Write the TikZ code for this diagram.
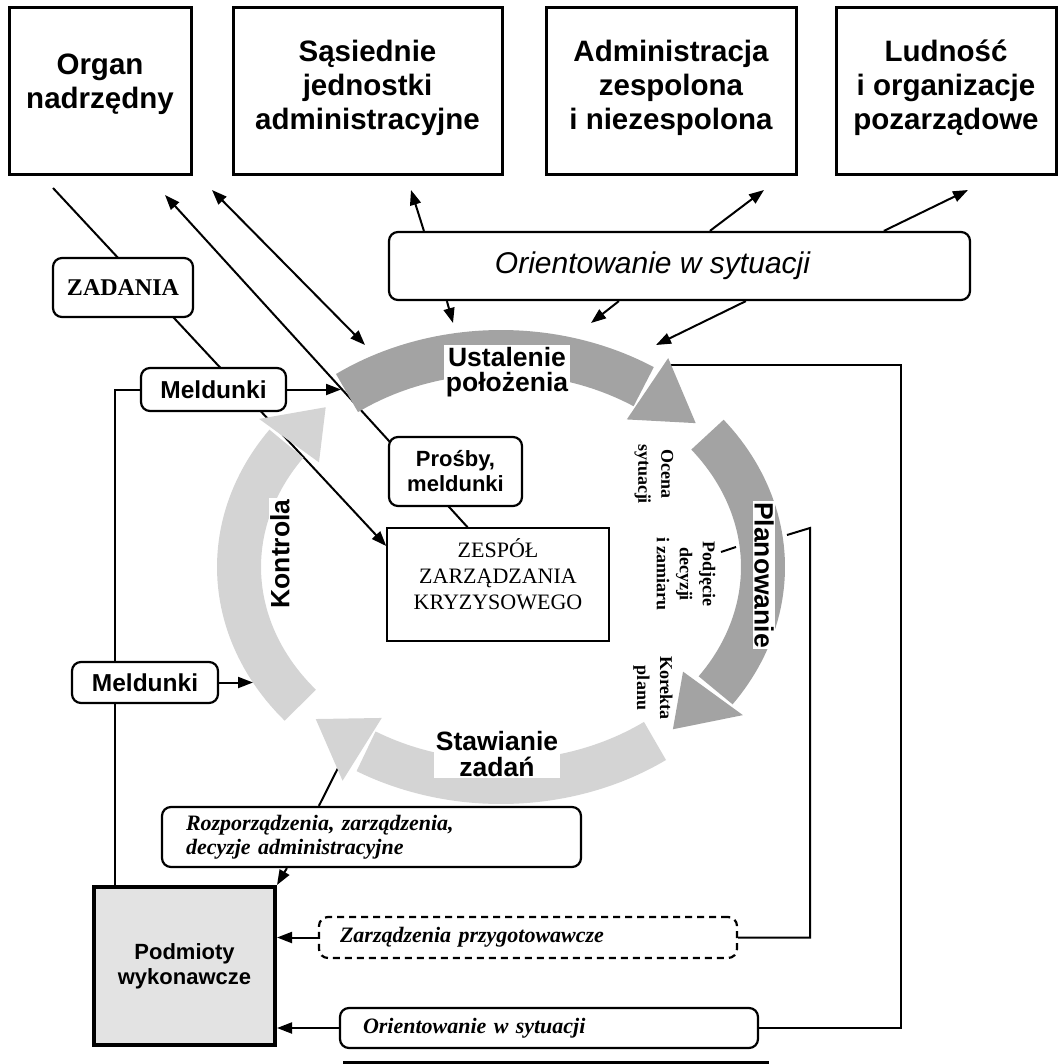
\documentclass[tikz,border=0pt]{standalone}
\usepackage{fontspec}
\setmainfont{Liberation Serif}
\setsansfont{Liberation Sans}
\usetikzlibrary{arrows.meta,calc}
\pgfdeclarelayer{lines}
\pgfdeclarelayer{ring}
\pgfsetlayers{lines,ring,main}
\definecolor{ringdark}{gray}{0.64}
\definecolor{ringlight}{gray}{0.83}
\definecolor{podfill}{gray}{0.89}
\tikzset{
  topbox/.style={draw, line width=3pt, minimum height=167pt, inner sep=0pt, align=center,
     font=\sffamily\bfseries\fontsize{29.5}{34}\selectfont, text depth=14pt},
  rbox/.style={draw, line width=2.2pt, rounded corners=9pt, fill=white, inner sep=0pt},
  conn/.style={line width=2pt},
  arr/.style={conn, -{Triangle[length=15pt,width=11pt]}},
  darr/.style={conn, {Triangle[length=15pt,width=11pt]}-{Triangle[length=15pt,width=11pt]}},
  ringlbl/.style={fill=white, inner sep=1.5pt, align=center,
     font=\sffamily\bfseries\fontsize{26.5}{25.5}\selectfont},
  smalllbl/.style={font=\rmfamily\bfseries\fontsize{18}{23}\selectfont, align=center,
     inner sep=0pt, rotate=-90},
  itlbl/.style={font=\rmfamily\bfseries\itshape\fontsize{22}{24}\selectfont},
}
\begin{document}
\begin{tikzpicture}[x=1pt,y=-1pt]
\useasboundingbox (0,0) rectangle (1064,1064);

% ---------- top boxes ----------
\node[topbox, minimum width=182pt, text depth=20pt] (organ) at (100,91.5) {Organ\\nadrzędny};
\node[topbox, minimum width=269pt] (sasiad) at (367.5,91.5) {Sąsiednie\\jednostki\\administracyjne};
\node[topbox, minimum width=250pt] (admin) at (671,91.5) {Administracja\\zespolona\\i niezespolona};
\node[topbox, minimum width=220pt] (ludn) at (946,91.5) {Ludność\\i organizacje\\pozarządowe};

% ---------- boxes ----------
\node[rbox, minimum width=581pt, minimum height=68pt,
      font=\sffamily\itshape\fontsize{30}{36}\selectfont] (orient1) at (679.5,266)
      {Orientowanie w sytuacji\hspace*{54pt}};
\node[rbox, minimum width=140pt, minimum height=59pt,
      font=\rmfamily\bfseries\fontsize{24}{28}\selectfont] (zad) at (123,287.5) {ZADANIA};
\node[rbox, minimum width=145pt, minimum height=43pt,
      font=\sffamily\bfseries\fontsize{24.5}{28}\selectfont] (meld1) at (213.5,389.5) {Meldunki};
\node[rbox, minimum width=146pt, minimum height=41pt,
      font=\sffamily\bfseries\fontsize{24.5}{28}\selectfont] (meld2) at (145,682.5) {Meldunki};
\node[rbox, minimum width=133pt, minimum height=69pt, align=center,
      font=\sffamily\bfseries\fontsize{22}{25}\selectfont] (prosby) at (455.5,471.5) {Prośby,\\meldunki};
\node[draw, line width=1.5pt, fill=white, minimum width=222pt, minimum height=113pt, inner sep=0pt,
      align=center, text depth=21pt, font=\rmfamily\fontsize{22}{26}\selectfont] (zespol) at (498,584.5)
      {ZESPÓŁ\\ZARZĄDZANIA\\KRYZYSOWEGO};
\node[rbox, itlbl, minimum width=419pt, minimum height=60pt, text width=371pt, align=left] (rozp)
      at (371.5,837) {Rozporządzenia, zarządzenia,\\decyzje administracyjne};
\node[draw, line width=4pt, fill=podfill, minimum width=181pt, minimum height=158pt, inner sep=0pt,
      align=center, font=\sffamily\bfseries\fontsize{22}{25}\selectfont] (podm) at (184.5,966)
      {Podmioty\\wykonawcze};
\node[rbox, itlbl, dash pattern=on 7pt off 5pt, minimum width=418pt, minimum height=41pt,
      text width=376pt, align=left] (zarz) at (528,937.5) {Zarządzenia przygotowawcze};
\node[rbox, itlbl, minimum width=418pt, minimum height=40pt, text width=372pt, align=left] (orient2)
      at (549,1028) {Orientowanie w sytuacji};

% ---------- ring labels ----------
\node[ringlbl] (ust) at (507,372) {Ustalenie\\położenia};
\node[ringlbl, rotate=-90] (plan) at (764,575) {Planowanie};
\node[ringlbl, rotate=90] (kontr) at (280,554) {Kontrola};
\node[ringlbl] (staw) at (497,754) {Stawianie\\zadań};
\node[smalllbl] (ocena) at (654,474) {Ocena\\sytuacji};
\node[smalllbl] (podj) at (686,574) {Podjęcie\\decyzji\\i zamiaru};
\node[smalllbl] (kor) at (653,688) {Korekta\\planu};

% ---------- free ends ----------
\coordinate (l1s) at (53,188);
\coordinate (l2e) at (165,195);
\coordinate (dA) at (212,190);
\coordinate (dB) at (365,345);
\coordinate (o1) at (411,190);
\coordinate (o2) at (764,190);
\coordinate (o3) at (968,190);
\coordinate (o4) at (453,323);
\coordinate (o5) at (591,323);
\coordinate (o6) at (656,345);
\coordinate (m1e) at (341,389.5);
\coordinate (m2e) at (253,682.5);
\coordinate (stawhead) at (338,768);
\coordinate (fbA) at (810,528);
\coordinate (planout) at (787,535);
\coordinate (fbB) at (901,365);
\coordinate (ustend) at (671,365);
\coordinate (podjA) at (721,552);
\coordinate (podjB) at (736,547);

% ---------- ring ----------
\begin{pgfonlayer}{ring}
\draw[ringdark, line width=44pt] plot[domain=234:303, samples=50] ({501+262*cos(\x)},{567+215*sin(\x)});
\fill[ringdark] ({501+299*cos(304)},{567+252*sin(304)}) -- ({501+262*cos(318)},{567+215*sin(318)})
   -- ({501+225*cos(304)},{567+178*sin(304)}) -- cycle;
\draw[ringdark, line width=44pt] plot[domain=322:395, samples=50] ({501+262*cos(\x)},{567+215*sin(\x)});
\fill[ringdark] ({501+299*cos(396)},{567+252*sin(396)}) -- ({501+262*cos(409)},{567+215*sin(409)})
   -- ({501+225*cos(396)},{567+178*sin(396)}) -- cycle;
\draw[ringlight, line width=44pt] plot[domain=54:121, samples=50] ({501+262*cos(\x)},{567+215*sin(\x)});
\fill[ringlight] ({501+299*cos(122)},{567+252*sin(122)}) -- ({501+262*cos(135)},{567+215*sin(135)})
   -- ({501+225*cos(122)},{567+178*sin(122)}) -- cycle;
\draw[ringlight, line width=44pt] plot[domain=140:215, samples=50] ({501+262*cos(\x)},{567+215*sin(\x)});
\fill[ringlight] ({501+299*cos(216)},{567+252*sin(216)}) -- ({501+262*cos(228)},{567+215*sin(228)})
   -- ({501+225*cos(216)},{567+178*sin(216)}) -- cycle;
\end{pgfonlayer}

% ---------- connectors ----------
\begin{pgfonlayer}{lines}
\draw[arr] (l1s) -- (zespol.161);
\draw[arr] (zespol.118) -- (l2e);
\draw[darr] (dA) -- (dB);
\draw[arr] ($(orient1.north west)+(36,0)$) -- (o1);
\draw[arr] ($(orient1.north west)+(322,0)$) -- (o2);
\draw[arr] ($(orient1.north west)+(496,0)$) -- (o3);
\draw[arr] ($(orient1.south west)+(59,0)$) -- (o4);
\draw[arr] ($(orient1.south west)+(231,0)$) -- (o5);
\draw[arr] ($(orient1.south west)+(358,0)$) -- (o6);
\draw[arr] (meld1.east) -- (m1e);
\draw[arr] (meld2.east) -- (m2e);
\draw[conn] ($(podm.north west)+(23,0)$) |- (meld1.west);
\draw[arr] ($(rozp.south west)+(126,0)$) -- (podm.north east);
\draw[conn] ($(rozp.north west)+(158,0)$) -- (stawhead);
\draw[arr] (zarz.west) -- (zarz.west -| podm.east);
\draw[arr] (orient2.west) -- (orient2.west -| podm.east);
\draw[conn] (zarz.east) -| (fbA) -- (planout);
\draw[conn] (orient2.east) -| (fbB) -- (ustend);
\draw[conn] (podjA) -- (podjB);
\end{pgfonlayer}

% bottom edge bar
\draw[line width=3pt] (343,1062.5) -- (769,1062.5);
\end{tikzpicture}
\end{document}
